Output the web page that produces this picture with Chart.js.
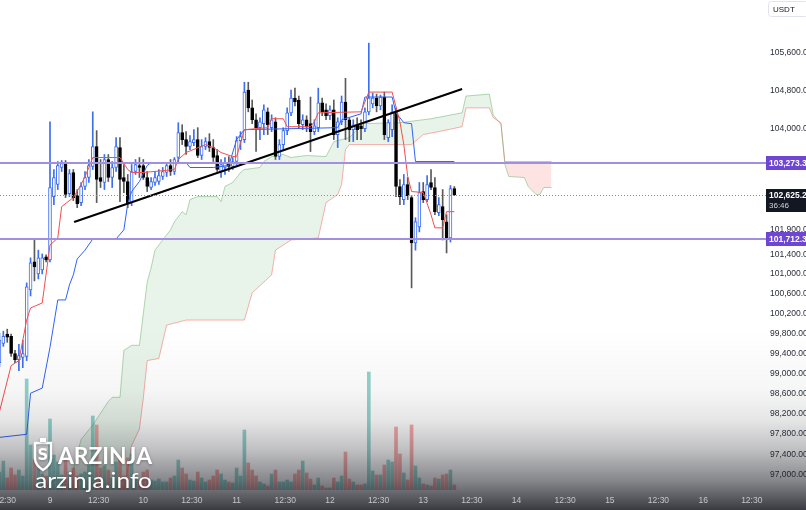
<!DOCTYPE html>
<html>
<head>
<meta charset="utf-8">
<title>BTCUSDT 1h</title>
<script src="https://cdn.jsdelivr.net/npm/chart.js@4.4.1/dist/chart.umd.min.js"></script>
<style>
  html, body { margin: 0; padding: 0; background: #fff; }
  #wrap { width: 806px; height: 510px; }
</style>
</head>
<body>
<div id="wrap"><canvas id="chart" width="806" height="510"></canvas></div>
<script>
// hourly candles, hour 0 = day 9 00:00, first candle = day 8 11:00
const firstHour = -13;

const opens = [
  99217, 99603, 99786, 99745, 99400, 99278, 99319, 99339, 100679, 101247, 101004, 101085, 101349,
  101288, 102587, 102836, 103189, 103293, 102649, 103085, 102608, 102463, 102795,
  102981, 103210, 103625, 102981, 102878, 103355, 102981, 103189, 103604, 102981,
  102898, 102463, 103106, 103230, 103230, 102981, 102774, 102878, 102898, 103002,
  103085, 103230, 103106, 103396, 103915, 103770, 103625, 103708, 103770, 103438,
  103625, 103728, 103604, 103438, 103106, 103189, 103293, 103210, 103313, 103749,
  103770, 104807, 104434, 104185, 104019, 104102, 104351, 104019, 104143, 103417,
  103666, 103957, 104330, 104641, 104600, 104081, 104185, 104102, 103936, 104019,
  104538, 104392, 104268, 104392, 103874, 104143, 104558, 104185, 103977, 104081,
  104060, 103998, 104351, 104517, 104641, 104475, 104662, 103811, 103977, 104351,
  102795, 102525, 102836, 102566, 101633, 101965, 102691, 102525, 102878, 102774,
  102255, 102380, 102068, 101736, 102753
];
const highs = [
  99806, 99847, 99887, 99786, 99461, 99583, 99664, 100821, 101329, 101695, 101487, 101410, 101390,
  104143, 103147, 103313, 103334, 103334, 103147, 103147, 102732, 102878, 103106,
  103355, 104351, 103957, 103355, 103459, 103459, 103313, 103811, 103811, 103251,
  103044, 103251, 103355, 103396, 103355, 103106, 102981, 103106, 103147, 103189,
  103272, 103355, 103396, 104123, 104081, 103936, 103853, 103977, 104019, 103770,
  103811, 103894, 103770, 103562, 103355, 103396, 103417, 103396, 103832, 103936,
  104974, 104974, 104600, 104309, 104226, 104496, 104434, 104289, 104226, 103770,
  104019, 104434, 104807, 104849, 104683, 104289, 104268, 104662, 104185, 104849,
  104641, 104517, 104475, 104600, 104226, 104683, 105056, 104226, 104185, 104226,
  104185, 104434, 105803, 104745, 104724, 104704, 104766, 104185, 104496, 104434,
  102940, 103044, 102981, 102608, 102151, 102878, 102878, 103023, 103147, 102981,
  102566, 102732, 102214, 102815, 102795
];
const lows = [
  99136, 99542, 99623, 99339, 99217, 99055, 99116, 99258, 100557, 100862, 100902, 101004, 101247,
  101247, 102421, 102732, 103106, 102566, 102587, 102504, 102359, 102400, 102732,
  102878, 103147, 102463, 102774, 102732, 102898, 102774, 103106, 102483, 102670,
  102359, 102400, 103044, 102981, 102940, 102691, 102732, 102815, 102836, 102940,
  103002, 103023, 103044, 103313, 103666, 103459, 103562, 103645, 103396, 103355,
  103562, 103521, 103313, 103106, 102981, 103044, 103106, 103147, 103251, 103562,
  103708, 104351, 104102, 103521, 103770, 103874, 103874, 103936, 103355, 103355,
  103562, 103874, 104268, 104475, 104019, 103977, 103936, 103521, 103874, 103936,
  104268, 104185, 104185, 103770, 103604, 104081, 103770, 103728, 103728, 103770,
  103770, 103936, 104289, 104434, 104351, 104392, 103770, 103728, 103832, 102587,
  102421, 102421, 102525, 100720, 101487, 101861, 102463, 102483, 102732, 102214,
  102193, 101695, 101430, 101653, 102608
];
const closes = [
  99664, 99745, 99725, 99400, 99278, 99360, 99400, 100740, 101227, 101146, 101329, 101329, 101288,
  102774, 102981, 103230, 103272, 102629, 103064, 102566, 102442, 102795, 102981,
  103230, 103625, 102940, 102898, 103355, 102981, 103189, 103625, 102940, 102898,
  102463, 103106, 103251, 103189, 102981, 102795, 102898, 102981, 103023, 103106,
  103230, 103106, 103355, 103915, 103770, 103625, 103728, 103770, 103438, 103625,
  103728, 103604, 103396, 103147, 103251, 103293, 103210, 103313, 103749, 103832,
  104766, 104434, 104185, 104019, 104143, 104392, 104081, 104185, 103417, 103666,
  103957, 104330, 104641, 104558, 104102, 104185, 104040, 103936, 104060, 104538,
  104351, 104268, 104392, 103874, 104143, 104558, 104185, 103977, 104081, 103977,
  103998, 104351, 104641, 104641, 104475, 104662, 103874, 104123, 104351, 102795,
  102587, 102836, 102608, 101633, 102068, 102670, 102525, 102836, 102774, 102276,
  102421, 102110, 101736, 102753, 102625.27
];
// volume, in pixels of bar height
const volumes = [
  18, 29, 12, 22, 15, 20, 14, 111, 45, 30, 22, 16, 14,
  71, 35, 28, 15, 30, 18, 22, 14, 16, 18,
  25, 74, 65, 22, 24, 20, 12, 28, 30, 14,
  32, 36, 12, 10, 18, 20, 10, 9, 11, 8,
  8, 12, 14, 30, 22, 16, 10, 9, 18, 12,
  8, 10, 14, 20, 16, 10, 8, 7, 22, 14,
  60, 27, 20, 14, 8, 6, 4, 16, 20, 8,
  8, 10, 8, 16, 20, 29, 17, 11, 5, 12,
  4, 2, 2, 12, 8, 14, 38, 11, 8, 5,
  5, 6, 118, 19, 15, 15, 25, 30, 28, 63,
  36, 17, 10, 65, 24, 12, 6, 5, 4, 12,
  11, 15, 16, 20, 5
];

// ichimoku lines as [hour, price] corners
const tenkanLine = [[-13,98243],[-10,99157],[-8,99258],[-6,100070],[-5,100314],[-2,100415],[0,101591],[2,101736],[3,102380],[6,102566],[8,102836],[9,103002],[10,103189],[11,103396],[18,103396],[20,103147],[21,103085],[24,103085],[32,103147],[33,103355],[35,103500],[40,103666],[42,103604],[44,103500],[47,103417],[48,103417],[50,103977],[56,104019],[57,104206],[60,104206],[61,104040],[67,104040],[68,104143],[69,104330],[80,104351],[82,104766],[88,104766],[90,104143],[91,103666],[92,103002],[93,102691],[96,102670],[98,102214],[99,101944],[101,101944],[102,102276],[104,102276]];
const kijunLine = [[-13,97736],[-6,97797],[-5,98608],[-2,98710],[0,99522],[2,100476],[4,100476],[5,100780],[6,100983],[7,101308],[9,101487],[11,101716],[17,101716],[19,101903],[20,102442],[21,102691],[23,102898],[25,103230],[26,103293],[35,103293],[36,103189],[42,103189],[46,103230],[48,103770],[50,103977],[74,104019],[75,104185],[80,104309],[81,104662],[88,104662],[89,104330],[91,104123],[93,104102],[94,103313],[104,103313]];
const spanALine = [[3,96010],[5,96822],[8,97695],[11,97979],[15,98446],[16,98527],[18,98527],[19,99461],[21,99563],[23,99563],[25,100841],[26,101126],[27,101487],[29,101695],[31,101903],[32,102068],[34,102276],[35,102214],[36,102525],[38,102587],[43,102587],[44,102483],[45,102795],[47,102878],[49,103085],[50,103147],[54,103189],[55,103313],[57,103417],[60,103459],[62,103396],[66,103438],[71,103417],[73,103728],[77,103811],[79,103977],[80,104102],[90,104123],[98,104206],[102,104268],[106,104330],[107,104683],[113,104724],[114,104289],[116,104081],[117,103251],[118,103002],[122,102981],[123,102795],[125,102629],[126,102629],[127,102774],[129,102774]];
const spanBLine = [[3,95200],[17,95900],[19,96619],[21,97573],[23,97898],[24,98507],[25,99258],[28,99299],[30,99968],[35,100070],[50,100070],[52,100618],[57,100983],[58,101487],[62,101695],[69,101736],[71,102463],[74,102629],[75,102836],[76,103562],[77,103666],[93,103666],[96,103874],[100,103936],[106,104040],[107,104434],[113,104434],[114,104226],[116,104123],[117,103313],[129,103313]];

const trendHours = [6.2, 106.0];
const trendPrices = [102065, 104830];

const levelPrices = [103273.33, 101712.3];
const lastPrice = 102625.27;
const countdown = '36:46';

const priceTicks = [105600, 104800, 104000, 101900, 101400, 101000, 100600, 100200, 99800, 99400, 99000, 98600, 98200, 97800, 97400, 97000];
const timeTickHours = [-11.5, 0, 12.5, 24, 36.5, 48, 60.5, 72, 84.5, 96, 108.5, 120, 132.5, 144, 156.5, 168, 180.5];
const timeTickLabels = ['12:30', '9', '12:30', '10', '12:30', '11', '12:30', '12', '12:30', '13', '12:30', '14', '12:30', '15', '12:30', '16', '12:30'];

const BLUE = '#3d6ef0';
const FONT = '"Liberation Sans", Arial, sans-serif';

const hours = opens.map((_, i) => firstHour + i);
const isUp = hours.map((_, i) => closes[i] >= opens[i]);
const pairs = arr => arr.map(([x, y]) => ({ x, y }));
const fmt = v => v.toLocaleString('en-US', { minimumFractionDigits: 2, maximumFractionDigits: 2 });

function fitText(ctx, text, x, y, width, size, weight) {
    ctx.font = `${weight} ${size}px Lato, "Open Sans", sans-serif`;
    const w = ctx.measureText(text).width;
    ctx.save();
    ctx.translate(x, y);
    ctx.scale(width / w, 1);
    ctx.fillText(text, 0, 0);
    ctx.restore();
}

const overlay = {
    id: 'overlay',
    afterDatasetsDraw(chart) {
        const { ctx, chartArea: a, scales: { y } } = chart;
        ctx.save();
        ctx.lineWidth = 2;
        ctx.strokeStyle = '#a28fe0';
        levelPrices.forEach(v => {
            const py = Math.round(y.getPixelForValue(v));
            ctx.beginPath(); ctx.moveTo(0, py); ctx.lineTo(a.right, py); ctx.stroke();
        });
        const lp = Math.round(y.getPixelForValue(lastPrice)) + 0.5;
        ctx.setLineDash([1, 2]);
        ctx.lineWidth = 1;
        ctx.strokeStyle = '#8c8c8c';
        ctx.beginPath(); ctx.moveTo(0, lp); ctx.lineTo(a.right, lp); ctx.stroke();
        ctx.setLineDash([]);

        // dark shade at the bottom
        const g = ctx.createLinearGradient(0, 330, 0, 510);
        g.addColorStop(0, 'rgba(26,27,35,0)');
        g.addColorStop(0.333, 'rgba(26,27,35,0.04)');
        g.addColorStop(0.5, 'rgba(26,27,35,0.11)');
        g.addColorStop(0.667, 'rgba(26,27,35,0.28)');
        g.addColorStop(0.833, 'rgba(26,27,35,0.52)');
        g.addColorStop(1, 'rgba(26,27,35,0.86)');
        ctx.fillStyle = g;
        ctx.fillRect(0, 330, chart.width, 180);
        ctx.restore();
    },
    afterDraw(chart) {
        const { ctx, chartArea: a, scales: { y } } = chart;
        ctx.save();
        ctx.textBaseline = 'middle';
        ctx.textAlign = 'left';

        levelPrices.forEach(v => {
            const py = Math.round(y.getPixelForValue(v));
            ctx.fillStyle = '#6e46d2';
            ctx.fillRect(a.right, py - 7, 40, 14);
            ctx.fillStyle = '#fff';
            ctx.font = `bold 8.5px ${FONT}`;
            ctx.fillText(fmt(v), a.right + 3, py + 0.5);
        });

        const lp = Math.round(y.getPixelForValue(lastPrice));
        ctx.fillStyle = '#131722';
        ctx.fillRect(a.right, lp - 6, 40, 23);
        ctx.fillStyle = '#fff';
        ctx.font = `bold 8.5px ${FONT}`;
        ctx.fillText(fmt(lastPrice), a.right + 3, lp + 0.5);
        ctx.font = `8px ${FONT}`;
        ctx.fillStyle = '#d1d4dc';
        ctx.fillText(countdown, a.right + 3, lp + 11);

        // currency button
        ctx.strokeStyle = '#e0e3eb';
        ctx.lineWidth = 1;
        ctx.beginPath();
        ctx.roundRect(768.5, 1.5, 40, 15, 3);
        ctx.fillStyle = '#fff';
        ctx.fill();
        ctx.stroke();
        ctx.fillStyle = '#131722';
        ctx.font = `8px ${FONT}`;
        ctx.fillText('USDT', 773, 9.5);

        // watermark
        ctx.shadowColor = 'rgba(0,0,0,0.35)';
        ctx.shadowBlur = 3;
        ctx.shadowOffsetY = 1;
        ctx.fillStyle = '#fff';
        ctx.strokeStyle = '#fff';
        ctx.lineWidth = 2.4;
        ctx.beginPath();
        ctx.moveTo(35, 443); ctx.lineTo(51, 443); ctx.lineTo(51, 458);
        ctx.quadraticCurveTo(51, 465, 43, 470);
        ctx.quadraticCurveTo(35, 465, 35, 458);
        ctx.closePath();
        ctx.stroke();
        ctx.fillRect(40, 438, 6, 4);
        ctx.font = 'bold 15px "DejaVu Sans", sans-serif';
        ctx.textAlign = 'center';
        ctx.fillText('S', 43, 456);
        ctx.textAlign = 'left';
        ctx.textBaseline = 'alphabetic';
        fitText(ctx, 'ARZINJA', 58, 464, 94, 23, 'bold');
        fitText(ctx, 'arzinja.info', 35, 488, 117, 21, 'normal');
        ctx.restore();
    }
};

new Chart(document.getElementById('chart'), {
    type: 'bar',
    data: {
        datasets: [
            {
                type: 'line', label: 'Leading span A', order: 10,
                data: pairs(spanALine),
                borderColor: 'rgba(67,160,71,0.4)', borderWidth: 1, pointRadius: 0,
                fill: { target: 1, above: 'rgba(67,160,71,0.12)', below: 'rgba(244,67,54,0.14)' }
            },
            {
                type: 'line', label: 'Leading span B', order: 10,
                data: pairs(spanBLine),
                borderColor: 'rgba(244,67,54,0.4)', borderWidth: 1, pointRadius: 0, fill: false
            },
            {
                label: 'Volume', order: 9, yAxisID: 'yv',
                data: hours.map((h, i) => ({ x: h, y: volumes[i] })),
                backgroundColor: ctx => isUp[ctx.dataIndex] ? 'rgba(38,166,154,0.5)' : 'rgba(239,83,80,0.5)',
                barThickness: 3, grouped: false
            },
            {
                label: 'Wick', order: 8,
                data: hours.map((h, i) => ({ x: h, y: [lows[i], highs[i]] })),
                backgroundColor: ctx => isUp[ctx.dataIndex] ? BLUE : '#5a5a5a',
                barThickness: 1, grouped: false
            },
            {
                label: 'Body', order: 7,
                data: hours.map((h, i) => ({ x: h, y: [opens[i], closes[i]] })),
                backgroundColor: ctx => isUp[ctx.dataIndex] ? '#ffffff' : '#000000',
                borderColor: ctx => isUp[ctx.dataIndex] ? BLUE : '#000000',
                borderWidth: 1, borderSkipped: false, minBarLength: 1,
                barThickness: 3, grouped: false
            },
            {
                type: 'line', label: 'Base line', order: 5,
                data: pairs(kijunLine),
                borderColor: '#2f62f5', borderWidth: 1, pointRadius: 0
            },
            {
                type: 'line', label: 'Conversion line', order: 4,
                data: pairs(tenkanLine),
                borderColor: '#f0504f', borderWidth: 1, pointRadius: 0
            },
            {
                type: 'line', label: 'Trend', order: 1,
                data: trendHours.map((h, i) => ({ x: h, y: trendPrices[i] })),
                borderColor: '#000', borderWidth: 2, pointRadius: 0
            }
        ]
    },
    options: {
        responsive: false,
        devicePixelRatio: 1,
        animation: false,
        layout: { padding: 0 },
        plugins: { legend: { display: false }, tooltip: { enabled: false } },
        scales: {
            x: {
                type: 'linear', offset: false, bounds: 'data',
                min: -12.86, max: 184.16,
                grid: { display: false, drawTicks: false },
                border: { display: false },
                afterBuildTicks: s => { s.ticks = timeTickHours.map(v => ({ value: v })); },
                afterFit: s => { s.height = 20; s.paddingLeft = 0; s.paddingRight = 0; },
                ticks: {
                    z: 1, autoSkip: false, maxRotation: 0, padding: 6,
                    color: '#c6c6cc', font: { family: FONT, size: 8.5 },
                    callback: (v, i) => timeTickLabels[i]
                }
            },
            y: {
                type: 'logarithmic', position: 'right', bounds: 'data',
                min: 96707, max: 106725,
                grid: { display: false, drawTicks: false },
                border: { display: false },
                afterBuildTicks: s => { s.ticks = priceTicks.map(v => ({ value: v })); },
                afterFit: s => { s.width = 40; s.paddingTop = 0; s.paddingBottom = 0; },
                ticks: {
                    padding: 4, color: '#2a2e39', font: { family: FONT, size: 8.5 },
                    callback: v => fmt(v)
                }
            },
            yv: {
                type: 'linear', display: false, min: 0, max: 490
            }
        }
    },
    plugins: [overlay]
});
</script>
</body>
</html>
